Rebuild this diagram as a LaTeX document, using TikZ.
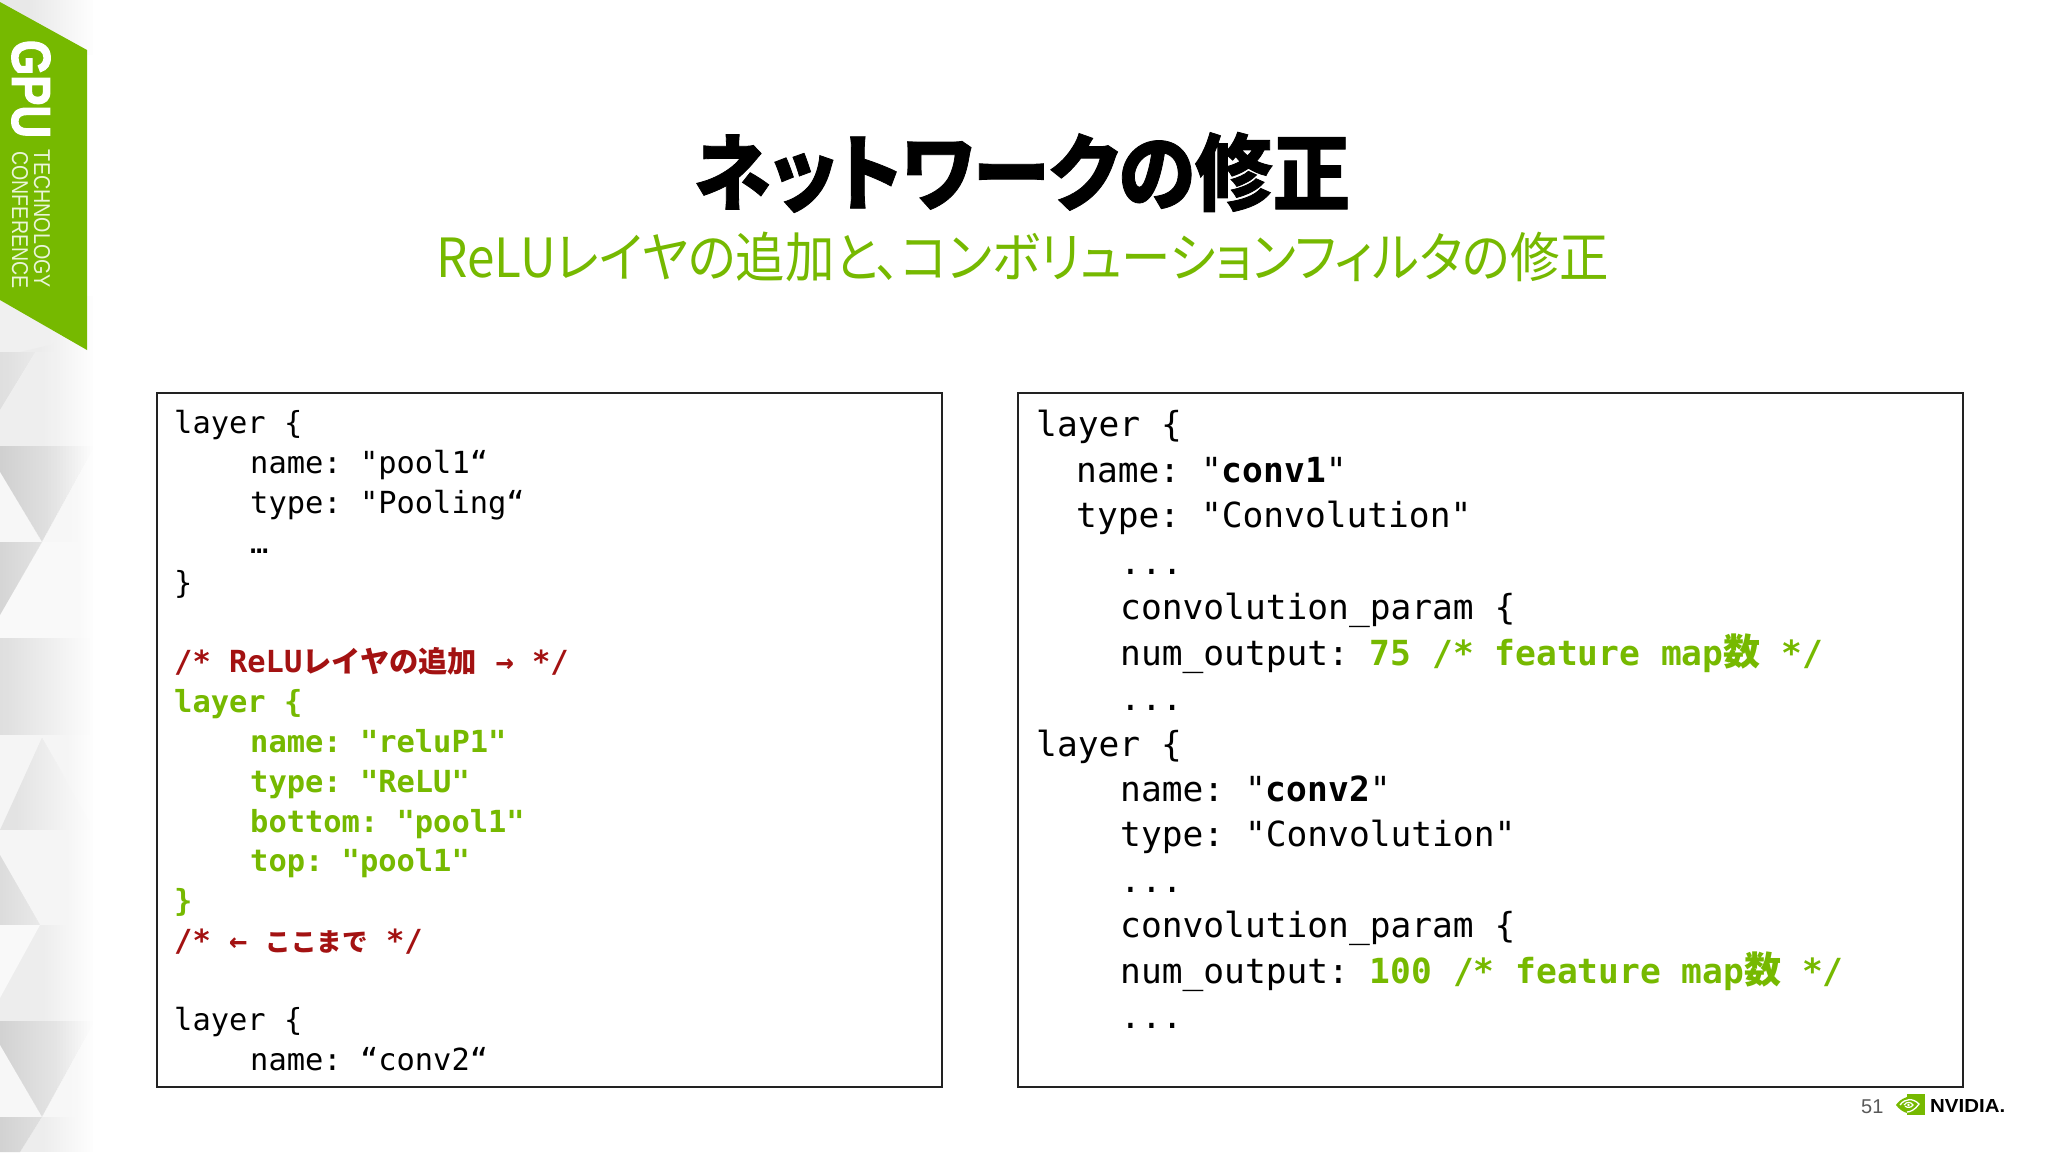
\documentclass[tikz,border=0pt]{standalone}
\usepackage{fontspec}
\usepackage{graphicx}
\setmainfont{Liberation Sans}
\newfontfamily\codefont{DejaVu Sans Mono}
\newfontfamily\jpfont{Noto Sans CJK JP}
\newfontfamily\jppalt[RawFeature=+palt]{Noto Sans CJK JP}
\newfontfamily\jptitle[BoldFeatures={RawFeature=+palt,FakeBold=1}]{Noto Sans CJK JP}
\newfontfamily\heavysans[BoldFeatures={FakeBold=2.5}]{Liberation Sans}
\definecolor{nvgreen}{HTML}{76B900}
\definecolor{codered}{HTML}{A31212}
\definecolor{boxline}{HTML}{222222}
\newcommand\jpb[2]{{\jpfont\bfseries\fontsize{#1}{#1}\selectfont #2}}
\AtBeginDocument{\frenchspacing}
\tikzset{
  slidebox/.style={draw=boxline, line width=1.6pt, fill=white, anchor=north west, inner sep=0pt},
  codeleft/.style={anchor=base west, inner sep=0pt, font=\codefont\fontsize{30.4}{30.4}\selectfont},
  coderight/.style={anchor=base west, inner sep=0pt, font=\codefont\fontsize{34.55}{34.55}\selectfont},
  greencode/.style={text=nvgreen, font=\codefont\bfseries\fontsize{30.4}{30.4}\selectfont},
  redcode/.style={text=codered, font=\codefont\bfseries\fontsize{30.4}{30.4}\selectfont},
  plain/.style={inner sep=0pt},
}
\begin{document}
\begin{tikzpicture}[x=1pt,y=-1pt]
\useasboundingbox (0,0) rectangle (2048,1152);
\fill[white] (0,0) rectangle (2048,1152);
% faceted background
\fill[gray!18] (0,0) rectangle (95,55);
\fill[gray!12] (0,296) rectangle (95,352);
\fill[white!85!gray] (20,352) -- (50,345) -- (95,300) -- (95,352) -- cycle;
\fill[gray!26] (0,352) rectangle (95,446);
\fill[gray!13] (0,410) -- (35,352) -- (95,352) -- (95,446) -- (0,446) -- cycle;
\fill[gray!38] (0,446) rectangle (95,542);
\fill[gray!6] (0,472) -- (42,542) -- (0,542) -- cycle;
\fill[gray!6] (42,542) -- (95,446) -- (95,542) -- cycle;
\fill[gray!5] (0,542) rectangle (95,638);
\fill[gray!34] (0,542) -- (42,542) -- (0,615) -- cycle;
\fill[gray!26] (0,638) rectangle (95,735);
\fill[gray!8] (0,735) rectangle (95,830);
\fill[gray!22] (42,738) -- (95,830) -- (0,830) -- cycle;
\fill[gray!8] (0,830) rectangle (95,925);
\fill[gray!28] (0,855) -- (40,925) -- (0,925) -- cycle;
\fill[gray!14] (0,925) rectangle (95,1021);
\fill[gray!5] (0,925) -- (40,925) -- (0,998) -- cycle;
\fill[gray!36] (0,1021) rectangle (95,1117);
\fill[gray!6] (0,1045) -- (42,1117) -- (0,1117) -- cycle;
\fill[gray!6] (42,1117) -- (95,1021) -- (95,1117) -- cycle;
\fill[gray!14] (0,1117) rectangle (95,1152);
\fill[gray!36] (0,1117) -- (42,1117) -- (20,1152) -- (0,1152) -- cycle;
% fade to white towards the right
\foreach \k in {1,...,32}{
  \pgfmathsetmacro{\stepalpha}{1/(32-\k+1)}
  \fill[white, fill opacity=\stepalpha] ({(\k-1)*3},0) rectangle (96,1152);
}
% banner
\fill[nvgreen] (0,2) -- (87,50) -- (87,350) -- (0,300) -- cycle;
\node[plain, rotate=-90, text=white] (gpu) at (31,89) {\resizebox{98pt}{38pt}{\heavysans\bfseries GPU}};
\node[plain, rotate=-90, text=white!85!nvgreen] (tech) at (42,219) {\resizebox{138pt}{16pt}{TECHNOLOGY}};
\node[plain, rotate=-90, text=white!85!nvgreen] (conf) at (20,220) {\resizebox{137pt}{16pt}{CONFERENCE}};
% title
\node[plain, anchor=base] (title) at (1022,204) {\scalebox{0.924}[1]{\jptitle\bfseries\fontsize{84}{84}\selectfont ネットワークの修正}};
\node[plain, anchor=base, text=nvgreen] (subtitle) at (1023,277) {\scalebox{0.916}[1]{\jppalt\fontsize{54}{54}\selectfont ReLUレイヤの追加と、コンボリューションフィルタの修正}};
% boxes
\node[slidebox, minimum width=785pt, minimum height=694pt] (leftbox) at (156,392) {};
\node[slidebox, minimum width=945pt, minimum height=694pt] (rightbox) at (1017,392) {};
% left code
\node[codeleft] (la1) at (174,433) {layer \{};
\node[codeleft] (la2) at (250,473) {name: "pool1“};
\node[codeleft] (la3) at (250,513) {type: "Pooling“};
\node[codeleft] (la4) at (250,553) {…};
\node[codeleft] (la5) at (174,593) {\}};
\node[codeleft, redcode] (lb1) at (174,672) {/* ReLU\jpb{29.3}{レイヤの追加} → */};
\node[codeleft, greencode] (lc1) at (174,712) {layer \{};
\node[codeleft, greencode] (lc2) at (250,752) {name: "reluP1"};
\node[codeleft, greencode] (lc3) at (250,792) {type: "ReLU"};
\node[codeleft, greencode] (lc4) at (250,832) {bottom: "pool1"};
\node[codeleft, greencode] (lc5) at (250,871) {top: "pool1"};
\node[codeleft, greencode] (lc6) at (174,911) {\}};
\node[codeleft, redcode] (lb2) at (174,951) {/* ← \jpb{25.5}{ここまで} */};
\node[codeleft] (ld1) at (174,1030) {layer \{};
\node[codeleft] (ld2) at (250,1070) {name: “conv2“};
% right code
\node[coderight] (ra1) at (1036,436) {layer \{};
\node[coderight] (ra2) at (1076,482) {name: "{\bfseries conv1}"};
\node[coderight] (ra3) at (1076,527) {type: "Convolution"};
\node[coderight] (ra4) at (1120,574) {...};
\node[coderight] (ra5) at (1120,619) {convolution\_param \{};
\node[coderight] (ra6) at (1120,665) {num\_output: {\color{nvgreen}\bfseries 75 /* feature map\jpb{37}{数} */}};
\node[coderight] (ra7) at (1120,710) {...};
\node[coderight] (rb1) at (1036,756) {layer \{};
\node[coderight] (rb2) at (1120,801) {name: "{\bfseries conv2}"};
\node[coderight] (rb3) at (1120,846) {type: "Convolution"};
\node[coderight] (rb4) at (1120,892) {...};
\node[coderight] (rb5) at (1120,937) {convolution\_param \{};
\node[coderight] (rb6) at (1120,983) {num\_output: {\color{nvgreen}\bfseries 100 /* feature map\jpb{37}{数} */}};
\node[coderight] (rb7) at (1120,1028) {...};
% footer
\node[plain, anchor=base west, text=black!65, font=\fontsize{20}{20}\selectfont] (pageno) at (1861,1113) {51};
\fill[nvgreen] (1907,1094) rectangle (1925,1115);
\fill[nvgreen] (1907,1097) .. controls (1901,1099) and (1898,1102) .. (1896,1105) .. controls (1899,1109) and (1903,1112) .. (1907,1113) -- cycle;
\draw[white, line width=1.3pt] (1900,1105) .. controls (1905,1098) and (1913,1098) .. (1919,1104) .. controls (1915,1110) and (1910,1112) .. (1907,1112);
\draw[white, line width=1.2pt] (1904,1105) .. controls (1907,1101) and (1911,1102) .. (1913,1105) .. controls (1911,1108) and (1907,1108) .. (1905,1106);
\fill[white] (1908.5,1105) circle (1.4);
\node[plain, anchor=base west] (nvidia) at (1930,1112) {\resizebox{75pt}{13pt}{\bfseries NVIDIA.}};
\end{tikzpicture}
\end{document}
